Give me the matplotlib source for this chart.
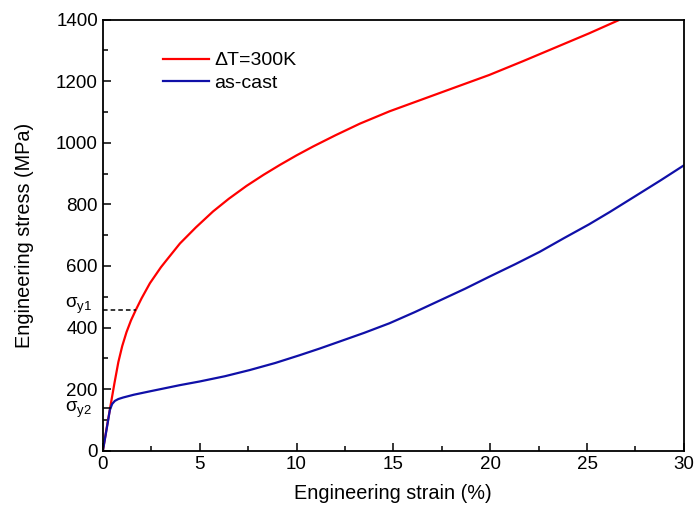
import matplotlib
matplotlib.use("Agg")
import matplotlib.pyplot as plt
from matplotlib.ticker import MultipleLocator

plt.rcParams['font.family'] = ['Liberation Sans', 'DejaVu Sans']
plt.rcParams['mathtext.fontset'] = 'custom'
plt.rcParams['mathtext.rm'] = 'Liberation Sans'
plt.rcParams['mathtext.it'] = 'Liberation Sans'

# Data
red_strain = [0, 0.2, 0.4, 0.6, 0.8, 1.0, 1.22, 1.45, 1.7, 2.0, 2.43, 3.0, 3.29, 3.98, 4.8, 5.69,
              6.5, 7.42, 8.3, 9.14, 10.0, 10.86, 12.0, 13.27, 14.8, 16.5, 18.2, 19.95, 21.7, 23.4, 25.1, 26.6]
red_stress = [0, 75, 148, 220, 288, 340, 385, 423, 457, 495, 544, 596, 619, 673, 725, 777,
              818, 860, 896, 928, 959, 988, 1024, 1062, 1102, 1141, 1180, 1220, 1265, 1310, 1355, 1397]
red_label = 'ΔT=300K'

blue_strain = [0, 0.2, 0.36, 0.48, 0.62, 0.8, 1.05, 1.6, 2.43, 3.2, 3.97, 5.0, 6.3, 7.58, 8.9, 10.15,
               11.2, 12.24, 13.5, 14.8, 16.1, 17.4, 18.7, 19.95, 21.3, 22.56, 23.8, 25.1, 26.17, 27.5, 28.8, 29.96]
blue_stress = [0, 72, 132, 152, 162, 168, 173, 182, 193, 203, 213, 225, 242, 262, 285, 310,
               332, 355, 383, 414, 450, 488, 526, 565, 606, 646, 690, 735, 775, 827, 878, 925]
blue_label = 'as-cast'

sigma_y1 = 457
sigma_y1_strain = 1.7
sigma_y2 = 140

fig = plt.figure(figsize=(6.95, 5.14), dpi=100)
ax = fig.add_axes([0.148, 0.123, 0.836, 0.839])

ax.plot(red_strain, red_stress, color='#ff0000', lw=1.6, label=red_label)
ax.plot(blue_strain, blue_stress, color='#1010a8', lw=1.6, label=blue_label)

ax.plot([0, sigma_y1_strain], [sigma_y1, sigma_y1], color='black', lw=1.1, ls=(0, (3, 2)))
ax.plot([0, 0.35], [sigma_y2, sigma_y2], color='black', lw=1.1)

ax.set_xlim(0, 30)
ax.set_ylim(0, 1400)
ax.xaxis.set_major_locator(MultipleLocator(5))
ax.xaxis.set_minor_locator(MultipleLocator(2.5))
ax.yaxis.set_major_locator(MultipleLocator(200))
ax.yaxis.set_minor_locator(MultipleLocator(100))
ax.tick_params(which='both', direction='in', top=False, right=False, labelsize=13.5, width=1.1)
ax.tick_params(which='major', length=6)
ax.tick_params(which='minor', length=3.5)
for s in ax.spines.values():
    s.set_linewidth(1.3)

ax.set_xlabel('Engineering strain (%)', fontsize=14.3, labelpad=8)
ax.set_ylabel('Engineering stress (MPa)', fontsize=14.3, labelpad=16)

ax.text(-1.95, 462, r'$\sigma_{y1}$', fontsize=13.5, ha='left', va='baseline', clip_on=False)
ax.text(-1.95, 125, r'$\sigma_{y2}$', fontsize=13.5, ha='left', va='baseline', clip_on=False)

ax.legend(loc='upper left', bbox_to_anchor=(0.103, 0.925), frameon=False, fontsize=14,
          handlelength=2.37, handletextpad=0.3, labelspacing=0.24, borderpad=0, borderaxespad=0)

fig.savefig('out.png', dpi=100)
